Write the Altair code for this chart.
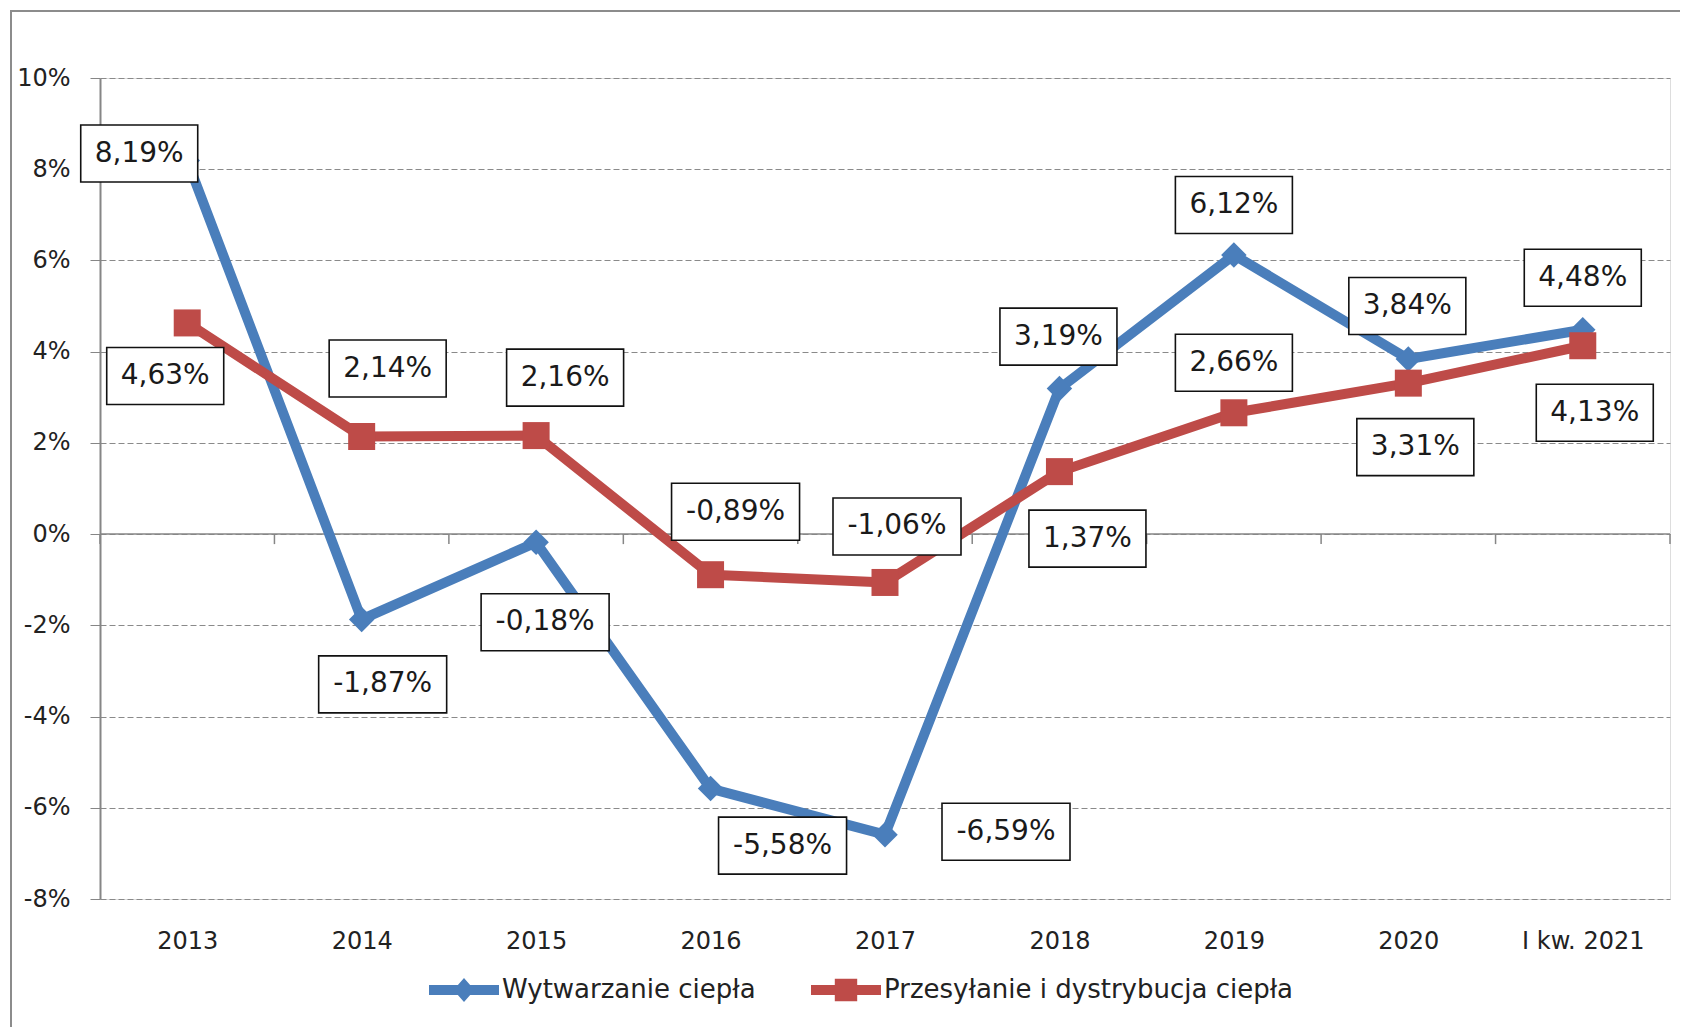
import altair as alt
import pandas as pd

# ---------------- data ----------------
categories = ["2013", "2014", "2015", "2016", "2017", "2018", "2019", "2020", "I kw. 2021"]
wytwarzanie = [8.19, -1.87, -0.18, -5.58, -6.59, 3.19, 6.12, 3.84, 4.48]
przesylanie = [4.63, 2.14, 2.16, -0.89, -1.06, 1.37, 2.66, 3.31, 4.13]
series_names = ["Wytwarzanie ciepła", "Przesyłanie i dystrybucja ciepła"]
y_ticks = [-8, -6, -4, -2, 0, 2, 4, 6, 8, 10]

# ---------------- layout (pixels) ----------------
W, H = 1570, 821
X_DOMAIN = [-0.5, len(categories) - 0.5]
Y_DOMAIN = [-8, 10]
PX_X = W / (X_DOMAIN[1] - X_DOMAIN[0])
PX_Y = H / (Y_DOMAIN[1] - Y_DOMAIN[0])

# manual data-label placement, offsets from the point in px
blue_dx = [-48, 21, 9, 72, 121, -1, 0, -1, 0]
blue_dy = [-7, 65, 80, 57, -3, -52, -50, -53, -52]
red_dx = [-22, 26, 29, 25, 12, 28, 0, 7, 12]
red_dy = [53, -68, -58, -63, -56, 67, -50, 64, 67]

BLUE = "#4A7EBB"
RED = "#BE4B48"
GRAY = "#868686"
FONT = "DejaVu Sans"
BOX_W_POS, BOX_W_NEG, BOX_H = 117, 128, 57


def fmt(v):
    return f"{v:.2f}".replace(".", ",") + "%"


def build(name, vals, dxs, dys):
    rows = []
    for i, v in enumerate(vals):
        lx = i + dxs[i] / PX_X
        ly = v - dys[i] / PX_Y
        bw = BOX_W_NEG if v < 0 else BOX_W_POS
        rows.append({
            "idx": i, "value": v, "series": name, "label": fmt(v),
            "lx": lx, "ly": ly,
            "bx1": lx - bw / 2 / PX_X, "bx2": lx + bw / 2 / PX_X,
            "by1": ly - BOX_H / 2 / PX_Y, "by2": ly + BOX_H / 2 / PX_Y,
        })
    return pd.DataFrame(rows)


df_blue = build(series_names[0], wytwarzanie, blue_dx, blue_dy)
df_red = build(series_names[1], przesylanie, red_dx, red_dy)
df_all = pd.concat([df_blue, df_red], ignore_index=True)

bounds = pd.DataFrame({"b": [i - 0.5 for i in range(len(categories) + 1)]})
bounds["y0"] = 0.0
bounds["y1"] = -10 / PX_Y

cat_js = "[" + ",".join("'" + c + "'" for c in categories) + "]"

x_axis = alt.Axis(values=list(range(len(categories))), labelExpr=cat_js + "[datum.value]",
                  title=None, domain=False, ticks=False, grid=False,
                  labelFont=FONT, labelFontSize=24, labelColor="#222222", labelPadding=30)
y_axis = alt.Axis(values=y_ticks, labelExpr="datum.value + '%'", title=None,
                  domain=True, domainColor=GRAY, domainWidth=2,
                  ticks=True, tickColor=GRAY, tickSize=10, tickWidth=1,
                  grid=True, gridColor="#8a8a8a", gridDash=[6, 3], gridWidth=1,
                  labelFont=FONT, labelFontSize=24, labelColor="#222222", labelPadding=20)
x_scale = alt.Scale(domain=X_DOMAIN, nice=False, zero=False)
y_scale = alt.Scale(domain=Y_DOMAIN, nice=False, zero=False)


def X(f):
    return alt.X(f, type="quantitative", scale=x_scale, axis=x_axis)


def Y(f):
    return alt.Y(f, type="quantitative", scale=y_scale, axis=y_axis)


frame = alt.Chart(pd.DataFrame({"k": [0]})).mark_rect(
    fillOpacity=0, stroke="#8c8c8c", strokeWidth=2
).encode(x=alt.value(-89), x2=alt.value(W + 200), y=alt.value(-67), y2=alt.value(H + 300))

zero_rule = alt.Chart(pd.DataFrame({"z": [0.0]})).mark_rule(color=GRAY, strokeWidth=1.5).encode(
    y=Y("z"), x=alt.value(0), x2=alt.value(W))

ticks = alt.Chart(bounds).mark_rule(color=GRAY, strokeWidth=1.5).encode(
    x=X("b"), y=Y("y0"), y2="y1")

blue_line = alt.Chart(df_blue).mark_line(color=BLUE, strokeWidth=10, strokeJoin="round").encode(
    x=X("idx"), y=Y("value"))
blue_pts = alt.Chart(df_blue).mark_point(shape="diamond", filled=True, size=650, color=BLUE, opacity=1).encode(
    x=X("idx"), y=Y("value"))
red_line = alt.Chart(df_red).mark_line(color=RED, strokeWidth=10, strokeJoin="round").encode(
    x=X("idx"), y=Y("value"))
red_pts = alt.Chart(df_red).mark_point(shape="square", filled=True, size=729, color=RED, opacity=1).encode(
    x=X("idx"), y=Y("value"))

path_blue = ("M-1,-0.14L1,-0.14L1,0.14L-1,0.14Z "
             "M-0.3,0L0,-0.34L0.3,0L0,0.34Z")
path_red = ("M-1,-0.14L1,-0.14L1,0.14L-1,0.14Z "
            "M-0.32,-0.32L0.32,-0.32L0.32,0.32L-0.32,0.32Z")

leg = alt.Legend(orient="none", legendX=329, legendY=877, direction="horizontal", columns=2,
                 title=None, labelFont=FONT, labelFontSize=26, labelColor="#222222",
                 labelOffset=3, columnPadding=55, symbolSize=4900, symbolOpacity=1,
                 symbolStrokeWidth=0, labelLimit=1000)

legend_layer = alt.Chart(df_all).mark_point(filled=True, opacity=0).encode(
    x=X("idx"), y=Y("value"),
    color=alt.Color("series:N", scale=alt.Scale(domain=series_names, range=[BLUE, RED]), legend=leg),
    shape=alt.Shape("series:N", scale=alt.Scale(domain=series_names, range=[path_blue, path_red]), legend=leg),
)

boxes = alt.Chart(df_all).mark_rect(fill="white", stroke="#111111", strokeWidth=1.6).encode(
    x=X("bx1"), x2="bx2", y=Y("by1"), y2="by2")
texts = alt.Chart(df_all).mark_text(font=FONT, fontSize=28, color="#1a1a1a",
                                    align="center", baseline="middle").encode(
    x=X("lx"), y=Y("ly"), text="label:N")

chart = alt.layer(
    frame, zero_rule, ticks, blue_line, blue_pts, red_line, red_pts, legend_layer, boxes, texts
).properties(
    width=W, height=H,
    autosize=alt.AutoSizeParams(type="none"),
    padding={"left": 92, "top": 70, "right": 10, "bottom": 128},
).configure_view(strokeWidth=0).configure(background="white")

chart.save("out.html", embed_options={"renderer": "svg", "actions": False})
